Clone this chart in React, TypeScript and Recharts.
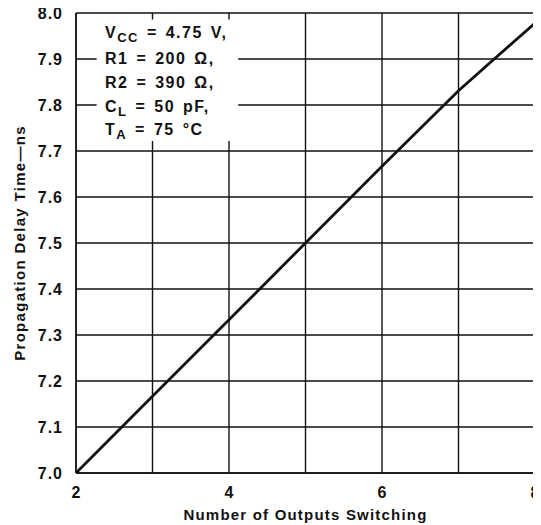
import React from 'react';
import { LineChart, Line, XAxis, YAxis, CartesianGrid, ReferenceArea, Label } from 'recharts';

const outputs = [2, 3, 4, 5, 6, 7, 7.5, 8];
const delayNs = [7.0, 7.167, 7.333, 7.5, 7.667, 7.831, 7.905, 7.978];
const xTicks = [2, 3, 4, 5, 6, 7, 8];
const xLabeled = [2, 4, 6, 8];
const yTicks = [7.0, 7.1, 7.2, 7.3, 7.4, 7.5, 7.6, 7.7, 7.8, 7.9, 8.0];

const data = outputs.map((x, i) => ({ x, y: delayNs[i] }));

const FONT = '"Liberation Sans", Arial, Helvetica, sans-serif';

const lineStyle: React.CSSProperties = {
  position: 'absolute',
  left: 97,
  height: 24,
  lineHeight: '24px',
  fontSize: 16,
  fontWeight: 'bold',
  letterSpacing: 1.5,
  wordSpacing: 2,
  whiteSpace: 'nowrap',
  color: '#111',
};
const subStyle: React.CSSProperties = { fontSize: 13, position: 'relative', top: 4, verticalAlign: 'baseline' };

export default function App() {
  return (
    <div style={{ position: 'relative', width: 533, height: 517, fontFamily: FONT }}>
      <style>{'.recharts-surface { overflow: visible; }'}</style>
      <LineChart
        width={533}
        height={517}
        data={data}
        margin={{ top: 5, right: 6, left: 0, bottom: 0 }}
        style={{ overflow: 'visible' }}
      >
        <CartesianGrid stroke="#111" strokeWidth={1.4} strokeOpacity={1} />
        <ReferenceArea x1={2.27} x2={4.12} y1={7.722} y2={7.986} fill="#fff" fillOpacity={1} stroke="none" />
        <XAxis
          dataKey="x"
          type="number"
          domain={[2, 8]}
          ticks={xTicks}
          interval={0}
          tickFormatter={(v: number) => (xLabeled.includes(v) ? String(v) : '')}
          tickLine={false}
          axisLine={{ stroke: '#111', strokeWidth: 1.4 }}
          tickMargin={8}
          height={52}
          tick={{ fill: '#111', fontSize: 16, fontWeight: 'bold', fontFamily: FONT }}
        >
          <Label
            value="Number of Outputs Switching"
            position="insideBottom"
            offset={5}
            style={{ fill: '#111', fontSize: 15, fontWeight: 'bold', fontFamily: FONT, letterSpacing: 1.2 }}
          />
        </XAxis>
        <YAxis
          type="number"
          domain={[7, 8]}
          ticks={yTicks}
          interval={0}
          tickFormatter={(v: number) => v.toFixed(1)}
          tickLine={false}
          axisLine={{ stroke: '#111', strokeWidth: 1.4 }}
          tickMargin={7}
          width={68}
          tick={{ fill: '#111', fontSize: 16, fontWeight: 'bold', fontFamily: FONT, letterSpacing: 1 }}
        >
          <Label
            value="Propagation Delay Time—ns"
            angle={-90}
            position="insideLeft"
            offset={12}
            style={{ textAnchor: 'middle', fill: '#111', fontSize: 15, fontWeight: 'bold', fontFamily: FONT, letterSpacing: 1.3 }}
          />
        </YAxis>
        <Line
          type="linear"
          dataKey="y"
          stroke="#111"
          strokeWidth={2.8}
          dot={false}
          isAnimationActive={false}
        />
      </LineChart>
      <div style={{ ...lineStyle, top: 13 }}>
        V<span style={subStyle}>CC</span> = 4.75 V,
      </div>
      <div style={{ ...lineStyle, top: 39 }}>R1 = 200 Ω,</div>
      <div style={{ ...lineStyle, top: 63 }}>R2 = 390 Ω,</div>
      <div style={{ ...lineStyle, top: 87 }}>
        C<span style={subStyle}>L</span> = 50 pF,
      </div>
      <div style={{ ...lineStyle, top: 110 }}>
        T<span style={subStyle}>A</span> = 75 °C
      </div>
    </div>
  );
}
